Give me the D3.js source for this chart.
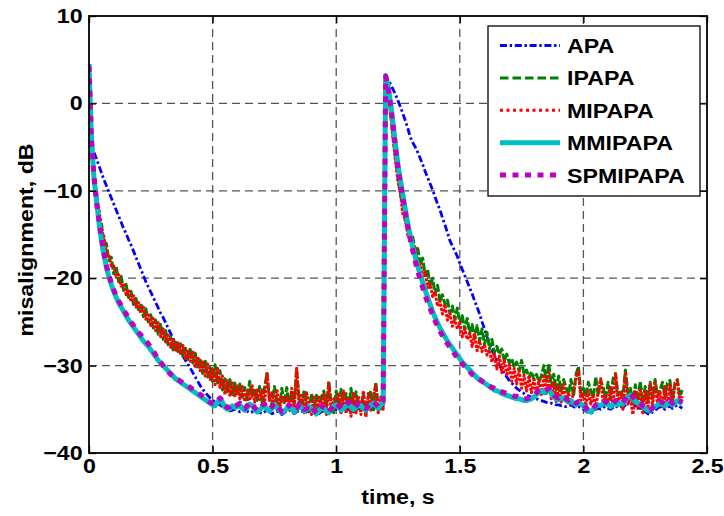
<!DOCTYPE html>
<html><head><meta charset="utf-8">
<script src="https://cdn.jsdelivr.net/npm/d3@7"></script>
<style>body{margin:0;background:#fff}svg{display:block}</style>
</head><body><svg id="c" width="724" height="516"></svg>
<script>
const seriesNames = ["APA", "IPAPA", "MIPAPA", "MMIPAPA", "SPMIPAPA"];
const seriesColors = ["#0000ff", "#008000", "#ff0000", "#00bfbf", "#bf00bf"];
const xTicks = [0, 0.5, 1, 1.5, 2, 2.5];
const yTicks = [-40, -30, -20, -10, 0, 10];
const xLabel = "time, s";
const yLabel = "misalignment, dB";
// sample times 0.00 .. 2.40 s (step 0.01 s)
const time = d3.range(241).map(i => i / 100);

const apa = [
4.5,-4.5,-5.6,-6.3,-7.1,-7.9,-8.7,-9.4,-10.1,-10.8,
-11.5,-12.2,-12.9,-13.6,-14.3,-14.9,-15.6,-16.2,-16.9,-17.6,
-18.3,-19.0,-19.7,-20.4,-21.0,-21.6,-22.2,-22.8,-23.4,-24.0,
-24.5,-25.1,-25.7,-26.3,-26.9,-27.4,-27.9,-28.4,-28.9,-29.4,
-29.8,-30.3,-30.8,-31.3,-31.8,-32.3,-32.7,-33.1,-33.4,-33.7,
-33.9,-34.2,-34.4,-34.5,-34.7,-34.9,-35.1,-35.2,-35.1,-35.0,
-35.1,-35.3,-35.2,-35.0,-35.2,-35.4,-35.3,-35.1,-35.2,-35.4,
-35.5,-35.3,-35.1,-35.3,-35.5,-35.4,-35.2,-35.4,-35.6,-35.4,
-35.2,-35.1,-35.3,-35.5,-35.3,-35.1,-35.2,-35.4,-35.3,-35.1,
-35.2,-35.4,-35.6,-35.5,-35.3,-35.2,-35.4,-35.5,-35.3,-35.1,
-35.0,-35.2,-35.3,-35.1,-34.9,-35.0,-35.2,-35.3,-35.1,-34.9,
-35.0,-35.2,-35.3,-35.1,-34.9,-34.8,-35.0,-35.1,-34.9,-34.6,
2.9,2.6,2.2,1.6,1.0,0.3,-0.4,-1.2,-2.0,-2.9,
-3.9,-4.5,-5.0,-5.6,-6.3,-7.0,-7.8,-8.5,-9.2,-9.9,
-10.7,-11.5,-12.2,-13.1,-13.9,-14.8,-15.7,-16.3,-16.9,-17.5,
-18.3,-19.0,-19.7,-20.4,-21.1,-21.8,-22.6,-23.3,-24.1,-25.0,
-25.8,-26.7,-27.5,-28.2,-28.8,-29.4,-29.9,-30.4,-30.9,-31.3,
-31.7,-32.0,-32.3,-32.6,-32.8,-33.0,-33.2,-33.4,-33.5,-33.6,
-33.7,-33.8,-33.9,-34.0,-34.1,-34.2,-34.3,-34.3,-34.4,-34.5,
-34.5,-34.6,-34.6,-34.7,-34.6,-34.5,-34.7,-34.8,-34.7,-34.8,
-35.0,-35.2,-35.4,-35.5,-35.3,-35.0,-34.9,-35.0,-34.8,-34.7,
-34.9,-35.0,-34.8,-34.6,-34.8,-34.7,-34.8,-34.5,-34.2,-34.0,
-34.3,-34.6,-34.8,-34.9,-35.1,-35.3,-35.5,-35.6,-35.3,-35.1,
-34.9,-34.7,-34.8,-35.0,-34.8,-34.6,-34.9,-34.7,-34.5,-34.7,
-34.9];

const ipapa = [
4.5,-4.5,-8.3,-10.2,-12.9,-13.6,-16.1,-16.0,-18.0,-17.6,
-19.5,-18.7,-20.4,-19.8,-21.4,-20.7,-22.2,-21.5,-23.0,-22.3,
-23.6,-22.9,-24.4,-23.5,-25.0,-24.2,-25.7,-24.8,-26.4,-25.3,
-27.0,-26.0,-27.6,-26.7,-28.2,-27.3,-28.4,-27.5,-28.9,-28.0,
-29.3,-28.0,-29.7,-28.6,-30.3,-29.2,-30.9,-29.5,-31.3,-30.2,
-31.8,-29.9,-32.0,-30.6,-32.8,-31.5,-33.0,-31.6,-33.3,-32.0,
-33.4,-32.1,-33.6,-32.5,-33.9,-31.8,-33.5,-32.6,-34.0,-32.4,
-34.2,-32.5,-30.9,-33.8,-34.5,-32.4,-34.1,-34.8,-32.6,-34.4,
-32.5,-34.7,-33.0,-34.5,-30.4,-33.9,-35.0,-32.8,-34.6,-35.3,
-33.2,-35.1,-33.4,-35.4,-33.6,-32.9,-35.0,-31.8,-34.5,-35.4,
-32.9,-34.8,-32.7,-35.2,-33.2,-34.9,-32.6,-35.3,-33.0,-34.7,
-35.0,-33.1,-35.6,-33.6,-32.9,-35.3,-31.9,-34.6,-35.2,-33.6,
3.0,1.5,-1.0,-3.8,-6.3,-8.6,-10.4,-11.6,-13.7,-13.9,
-15.6,-15.3,-17.0,-16.6,-18.5,-17.7,-19.7,-19.0,-21.0,-20.0,
-21.8,-20.8,-22.7,-21.9,-23.0,-22.5,-24.0,-23.2,-24.7,-23.4,
-25.2,-24.3,-25.9,-24.6,-26.3,-25.3,-26.9,-25.4,-27.2,-25.8,
-27.6,-26.2,-28.1,-27.0,-28.5,-27.8,-28.7,-28.1,-29.5,-28.7,
-29.7,-29.2,-30.2,-29.6,-30.6,-29.4,-31.0,-30.5,-31.4,-30.7,
-31.6,-31.0,-31.8,-31.2,-30.0,-31.8,-29.8,-32.4,-31.0,-32.8,
-31.2,-32.9,-31.6,-32.5,-33.3,-31.6,-33.5,-31.0,-30.1,-33.2,
-32.6,-33.4,-31.9,-32.9,-33.6,-31.3,-33.4,-31.7,-32.5,-33.7,
-31.9,-33.9,-31.5,-30.9,-33.4,-32.8,-33.5,-30.5,-33.1,-32.6,
-34.3,-32.2,-34.0,-31.8,-34.2,-32.4,-34.1,-31.9,-33.7,-31.6,
-33.5,-32.8,-31.9,-33.7,-32.0,-31.7,-33.9,-32.2,-31.6,-33.5,
-32.8];

const mipapa = [
4.5,-4.4,-8.1,-11.0,-11.9,-14.6,-15.2,-17.0,-17.3,-18.6,
-18.6,-19.8,-19.6,-20.9,-20.6,-21.9,-21.3,-22.7,-22.0,-23.3,
-22.8,-24.0,-23.3,-24.7,-24.0,-25.4,-24.6,-26.0,-25.1,-26.7,
-25.8,-27.3,-26.5,-27.9,-27.0,-28.4,-27.4,-28.6,-27.7,-29.2,
-28.2,-29.5,-28.3,-30.1,-29.0,-30.6,-29.4,-31.2,-29.8,-31.6,
-30.4,-32.2,-30.3,-32.5,-31.2,-33.3,-31.7,-33.4,-32.0,-33.6,
-32.3,-33.8,-32.4,-34.1,-32.9,-34.0,-32.3,-34.2,-32.8,-33.9,
-32.8,-34.5,-30.8,-34.0,-33.1,-34.8,-32.7,-35.2,-33.4,-34.1,
-33.6,-35.0,-32.6,-35.1,-30.3,-34.6,-33.2,-35.4,-33.1,-34.3,
-35.6,-33.4,-35.8,-33.6,-35.2,-33.3,-35.6,-32.0,-35.3,-33.8,
-35.0,-33.1,-35.4,-32.9,-35.5,-33.6,-35.8,-33.2,-35.4,-33.5,
-35.6,-32.9,-35.9,-33.2,-35.1,-33.5,-32.3,-35.4,-33.6,-35.0,
3.0,1.4,-1.2,-4.0,-6.6,-8.9,-10.3,-12.8,-13.2,-15.1,
-15.0,-16.9,-16.5,-18.4,-18.1,-19.8,-19.3,-21.1,-20.6,-22.1,
-21.6,-23.2,-22.6,-24.1,-23.0,-24.8,-24.0,-25.5,-24.6,-25.8,
-25.1,-26.7,-25.8,-27.0,-26.3,-27.8,-26.4,-28.3,-27.2,-28.4,
-27.6,-28.8,-28.2,-29.6,-28.7,-30.4,-28.9,-30.8,-29.4,-31.2,
-29.9,-31.8,-30.3,-32.1,-30.6,-32.6,-31.1,-32.9,-31.3,-33.1,
-31.6,-33.3,-31.7,-33.5,-31.0,-33.2,-30.8,-33.8,-32.0,-34.1,
-32.3,-34.2,-32.1,-34.0,-33.2,-34.4,-33.0,-31.4,-30.6,-34.0,
-33.2,-34.6,-32.9,-34.4,-33.3,-34.9,-32.8,-31.5,-34.2,-33.2,
-34.6,-32.5,-34.8,-31.0,-34.3,-33.0,-35.0,-30.7,-34.4,-33.7,
-35.6,-33.0,-34.9,-32.6,-35.4,-32.9,-35.2,-32.0,-34.6,-31.8,
-34.4,-33.0,-34.9,-32.4,-34.6,-32.2,-34.8,-32.0,-31.7,-34.3,
-33.5];

const mmipapa = [
4.5,-4.0,-8.5,-11.0,-13.5,-15.6,-17.3,-18.7,-19.8,-20.7,
-21.5,-22.2,-22.8,-23.3,-23.8,-24.3,-24.8,-25.2,-25.6,-26.0,
-26.4,-26.8,-27.2,-27.5,-27.8,-28.2,-28.6,-29.0,-29.4,-29.7,
-30.0,-30.3,-30.6,-30.9,-31.2,-31.5,-31.7,-31.9,-32.1,-32.3,
-32.5,-32.7,-32.9,-33.1,-33.3,-33.5,-33.7,-33.9,-34.1,-34.3,
-34.5,-34.6,-34.2,-33.8,-34.2,-34.8,-35.0,-34.9,-34.6,-34.8,
-34.7,-34.5,-34.9,-35.1,-34.8,-34.4,-34.6,-35.0,-35.3,-35.1,
-34.8,-34.6,-35.0,-35.2,-34.9,-34.5,-34.8,-35.1,-35.4,-35.2,
-34.9,-34.7,-35.0,-35.3,-35.0,-34.6,-34.8,-35.2,-35.0,-34.7,
-34.9,-35.3,-35.5,-35.2,-34.8,-34.9,-35.2,-35.4,-35.0,-34.6,
-34.5,-34.8,-35.1,-34.9,-34.6,-34.4,-34.7,-35.0,-34.8,-34.5,
-34.6,-34.9,-35.1,-34.8,-34.5,-34.3,-34.6,-34.9,-34.5,-34.2,
3.2,2.0,0.0,-2.3,-4.8,-7.0,-8.8,-10.5,-12.2,-13.8,
-15.3,-16.5,-17.6,-18.6,-19.6,-20.5,-21.4,-22.2,-23.0,-23.8,
-24.5,-25.1,-25.7,-26.2,-26.7,-27.2,-27.6,-28.0,-28.4,-28.8,
-29.2,-29.6,-29.9,-30.2,-30.5,-30.8,-31.1,-31.4,-31.6,-31.8,
-32.0,-32.2,-32.4,-32.6,-32.8,-32.9,-33.0,-33.2,-33.3,-33.4,
-33.5,-33.6,-33.7,-33.8,-33.8,-33.9,-34.0,-34.0,-33.9,-33.8,
-33.6,-33.3,-33.0,-32.9,-33.1,-33.0,-32.8,-33.2,-33.6,-33.8,
-33.9,-33.7,-33.8,-34.0,-34.2,-34.0,-34.3,-34.5,-34.3,-34.4,
-34.6,-34.9,-35.2,-35.3,-35.0,-34.7,-34.5,-34.6,-34.4,-34.3,
-34.5,-34.7,-34.4,-34.2,-34.5,-34.3,-34.4,-34.0,-33.6,-33.4,
-33.8,-34.1,-34.3,-34.4,-34.7,-34.9,-35.1,-35.2,-34.9,-34.7,
-34.5,-34.3,-34.4,-34.6,-34.4,-34.2,-34.5,-34.3,-34.0,-34.2,
-34.4];

const spmipapa = [
4.3,-4.2,-8.3,-11.2,-13.3,-15.4,-17.1,-18.5,-19.6,-20.5,
-21.3,-22.0,-22.6,-23.1,-23.6,-24.1,-24.5,-25.0,-25.4,-25.8,
-26.2,-26.5,-26.9,-27.2,-27.5,-27.9,-28.3,-28.8,-29.2,-29.6,
-30.0,-30.4,-30.7,-31.0,-31.2,-31.5,-31.6,-31.8,-32.0,-32.1,
-32.3,-32.5,-32.7,-32.9,-33.1,-33.3,-33.5,-33.7,-34.0,-34.2,
-34.3,-34.4,-34.0,-33.7,-34.0,-34.6,-34.8,-34.7,-34.4,-34.6,
-34.5,-34.3,-34.7,-34.9,-34.6,-34.2,-34.4,-34.8,-35.1,-35.0,
-34.6,-34.4,-34.8,-35.0,-34.7,-34.3,-34.6,-34.9,-35.3,-35.1,
-34.8,-34.5,-34.8,-35.1,-34.9,-34.4,-34.6,-35.0,-34.9,-34.5,
-34.7,-35.1,-35.4,-35.1,-34.6,-34.8,-35.0,-35.3,-34.9,-34.4,
-34.3,-34.6,-34.9,-34.7,-34.4,-34.2,-34.5,-34.8,-34.6,-34.3,
-34.4,-34.7,-34.9,-34.6,-34.3,-34.1,-34.4,-34.7,-34.3,-34.0,
3.1,1.8,-0.2,-2.6,-5.1,-7.4,-9.2,-10.9,-12.6,-14.2,
-15.6,-16.9,-18.1,-19.2,-20.2,-21.1,-22.0,-22.8,-23.5,-24.2,
-24.9,-25.5,-26.1,-26.6,-27.1,-27.5,-27.9,-28.3,-28.7,-29.1,
-29.4,-29.8,-30.1,-30.4,-30.7,-31.0,-31.2,-31.4,-31.6,-31.8,
-31.9,-32.1,-32.3,-32.5,-32.6,-32.8,-32.9,-33.0,-33.1,-33.2,
-33.3,-33.4,-33.5,-33.5,-33.6,-33.7,-33.8,-33.8,-33.7,-33.6,
-33.4,-33.1,-32.8,-32.7,-32.9,-32.8,-32.6,-33.0,-33.4,-33.6,
-33.7,-33.5,-33.6,-33.8,-34.0,-33.8,-34.1,-34.3,-34.1,-34.2,
-34.4,-34.8,-35.1,-35.2,-34.9,-34.5,-34.3,-34.4,-34.2,-34.1,
-34.3,-34.5,-34.2,-34.0,-34.3,-34.1,-34.2,-33.8,-33.4,-33.2,
-33.6,-33.9,-34.1,-34.3,-34.6,-34.8,-35.0,-35.1,-34.8,-34.5,
-34.3,-34.1,-34.2,-34.4,-34.2,-34.0,-34.3,-34.1,-33.8,-34.0,
-34.2];

const seriesValues = [apa, ipapa, mipapa, mmipapa, spmipapa];
// plotDash: pattern on the dense, noisy curves; legendDash: pattern in the key
const seriesStyle = [
  {w: 2.8, plotDash: "7,2.7,2.4,2.7", legendDash: "7,2.7,2.4,2.7"},
  {w: 3, plotDash: "8,2", legendDash: "8.5,4"},
  {w: 3, plotDash: "3,1.3", legendDash: "3,3.5"},
  {w: 5, plotDash: null, legendDash: null},
  {w: 5, plotDash: "6,6.5", legendDash: "6,6.5"}
];

const svg = d3.select("#c");
const L = 89, R = 707, T = 16, B = 453;
const x = d3.scaleLinear().domain([0, 2.5]).range([L, R]);
const y = d3.scaleLinear().domain([-40, 10]).range([B, T]);
const font = "'Liberation Sans', Arial, sans-serif";
const FS = 20, SX = 1.16;

svg.append("rect").attr("x", L).attr("y", T).attr("width", R - L).attr("height", B - T).attr("fill", "#fff");

// grid
const grid = svg.append("g").attr("stroke", "#555").attr("stroke-width", 1.3).attr("stroke-dasharray", "8,5");
grid.selectAll("line.v").data(xTicks.slice(1, -1)).join("line")
  .attr("x1", d => x(d)).attr("x2", d => x(d)).attr("y1", T).attr("y2", B);
grid.selectAll("line.h").data(yTicks.slice(1, -1)).join("line").attr("class", "h")
  .attr("x1", L).attr("x2", R).attr("y1", d => y(d)).attr("y2", d => y(d));

// data
svg.append("clipPath").attr("id", "clip").append("rect")
  .attr("x", L).attr("y", T).attr("width", R - L).attr("height", B - T);
const line = d3.line().x((d, i) => x(time[i])).y(d => y(d));
const plot = svg.append("g").attr("clip-path", "url(#clip)");
seriesValues.forEach((vals, k) => {
  plot.append("path").datum(vals)
    .attr("d", line)
    .attr("fill", "none")
    .attr("stroke", seriesColors[k])
    .attr("stroke-width", seriesStyle[k].w)
    .attr("stroke-dasharray", seriesStyle[k].plotDash)
    .attr("stroke-linejoin", "round");
});

// axes
function styleAxis(g) {
  g.select(".domain").remove();
  g.selectAll(".tick line").attr("stroke", "#000").attr("stroke-width", 1.3);
  g.selectAll("text").attr("font-family", font).attr("font-weight", "bold")
    .attr("font-size", FS).attr("fill", "#000");
}
const xb = svg.append("g").attr("transform", `translate(0,${B})`)
  .call(d3.axisBottom(x).tickValues(xTicks).tickFormat(d3.format("")).tickSizeInner(-7).tickSizeOuter(0).tickPadding(0));
styleAxis(xb);
xb.selectAll("text").attr("y", 20).attr("dy", null).attr("transform", `scale(${SX},1)`);
const xt = svg.append("g").attr("transform", `translate(0,${T})`)
  .call(d3.axisTop(x).tickValues(xTicks).tickFormat("").tickSizeInner(-7).tickSizeOuter(0));
styleAxis(xt);
const yl = svg.append("g").attr("transform", `translate(${L},0)`)
  .call(d3.axisLeft(y).tickValues(yTicks).tickFormat(d3.format("")).tickSizeInner(-7).tickSizeOuter(0).tickPadding(0));
styleAxis(yl);
yl.selectAll("text").attr("x", -5.5).attr("transform", `scale(${SX},1)`);
const yr = svg.append("g").attr("transform", `translate(${R},0)`)
  .call(d3.axisRight(y).tickValues(yTicks).tickFormat("").tickSizeInner(-7).tickSizeOuter(0));
styleAxis(yr);

svg.append("rect").attr("x", L).attr("y", T).attr("width", R - L).attr("height", B - T)
  .attr("fill", "none").attr("stroke", "#000").attr("stroke-width", 1.8);

// axis labels
svg.append("text").attr("transform", `translate(398,504) scale(${SX},1)`)
  .attr("text-anchor", "middle").attr("font-family", font).attr("font-weight", "bold")
  .attr("font-size", FS).text(xLabel);
svg.append("text").attr("transform", `translate(33,240) rotate(-90) scale(${SX},1)`)
  .attr("text-anchor", "middle").attr("font-family", font).attr("font-weight", "bold")
  .attr("font-size", FS).text(yLabel);

// legend
const lg = svg.append("g");
lg.append("rect").attr("x", 488).attr("y", 26).attr("width", 212).attr("height", 170)
  .attr("fill", "#fff").attr("stroke", "#000").attr("stroke-width", 1.3);
seriesNames.forEach((n, k) => {
  const cy = 45.5 + k * 32.4;
  lg.append("line").attr("x1", 500).attr("x2", 560).attr("y1", cy).attr("y2", cy)
    .attr("stroke", seriesColors[k]).attr("stroke-width", seriesStyle[k].w)
    .attr("stroke-dasharray", seriesStyle[k].legendDash);
  lg.append("text").attr("transform", `translate(567,${cy + 7.5}) scale(${SX},1)`)
    .attr("font-family", font).attr("font-weight", "bold").attr("font-size", FS).text(n);
});
</script></body></html>
